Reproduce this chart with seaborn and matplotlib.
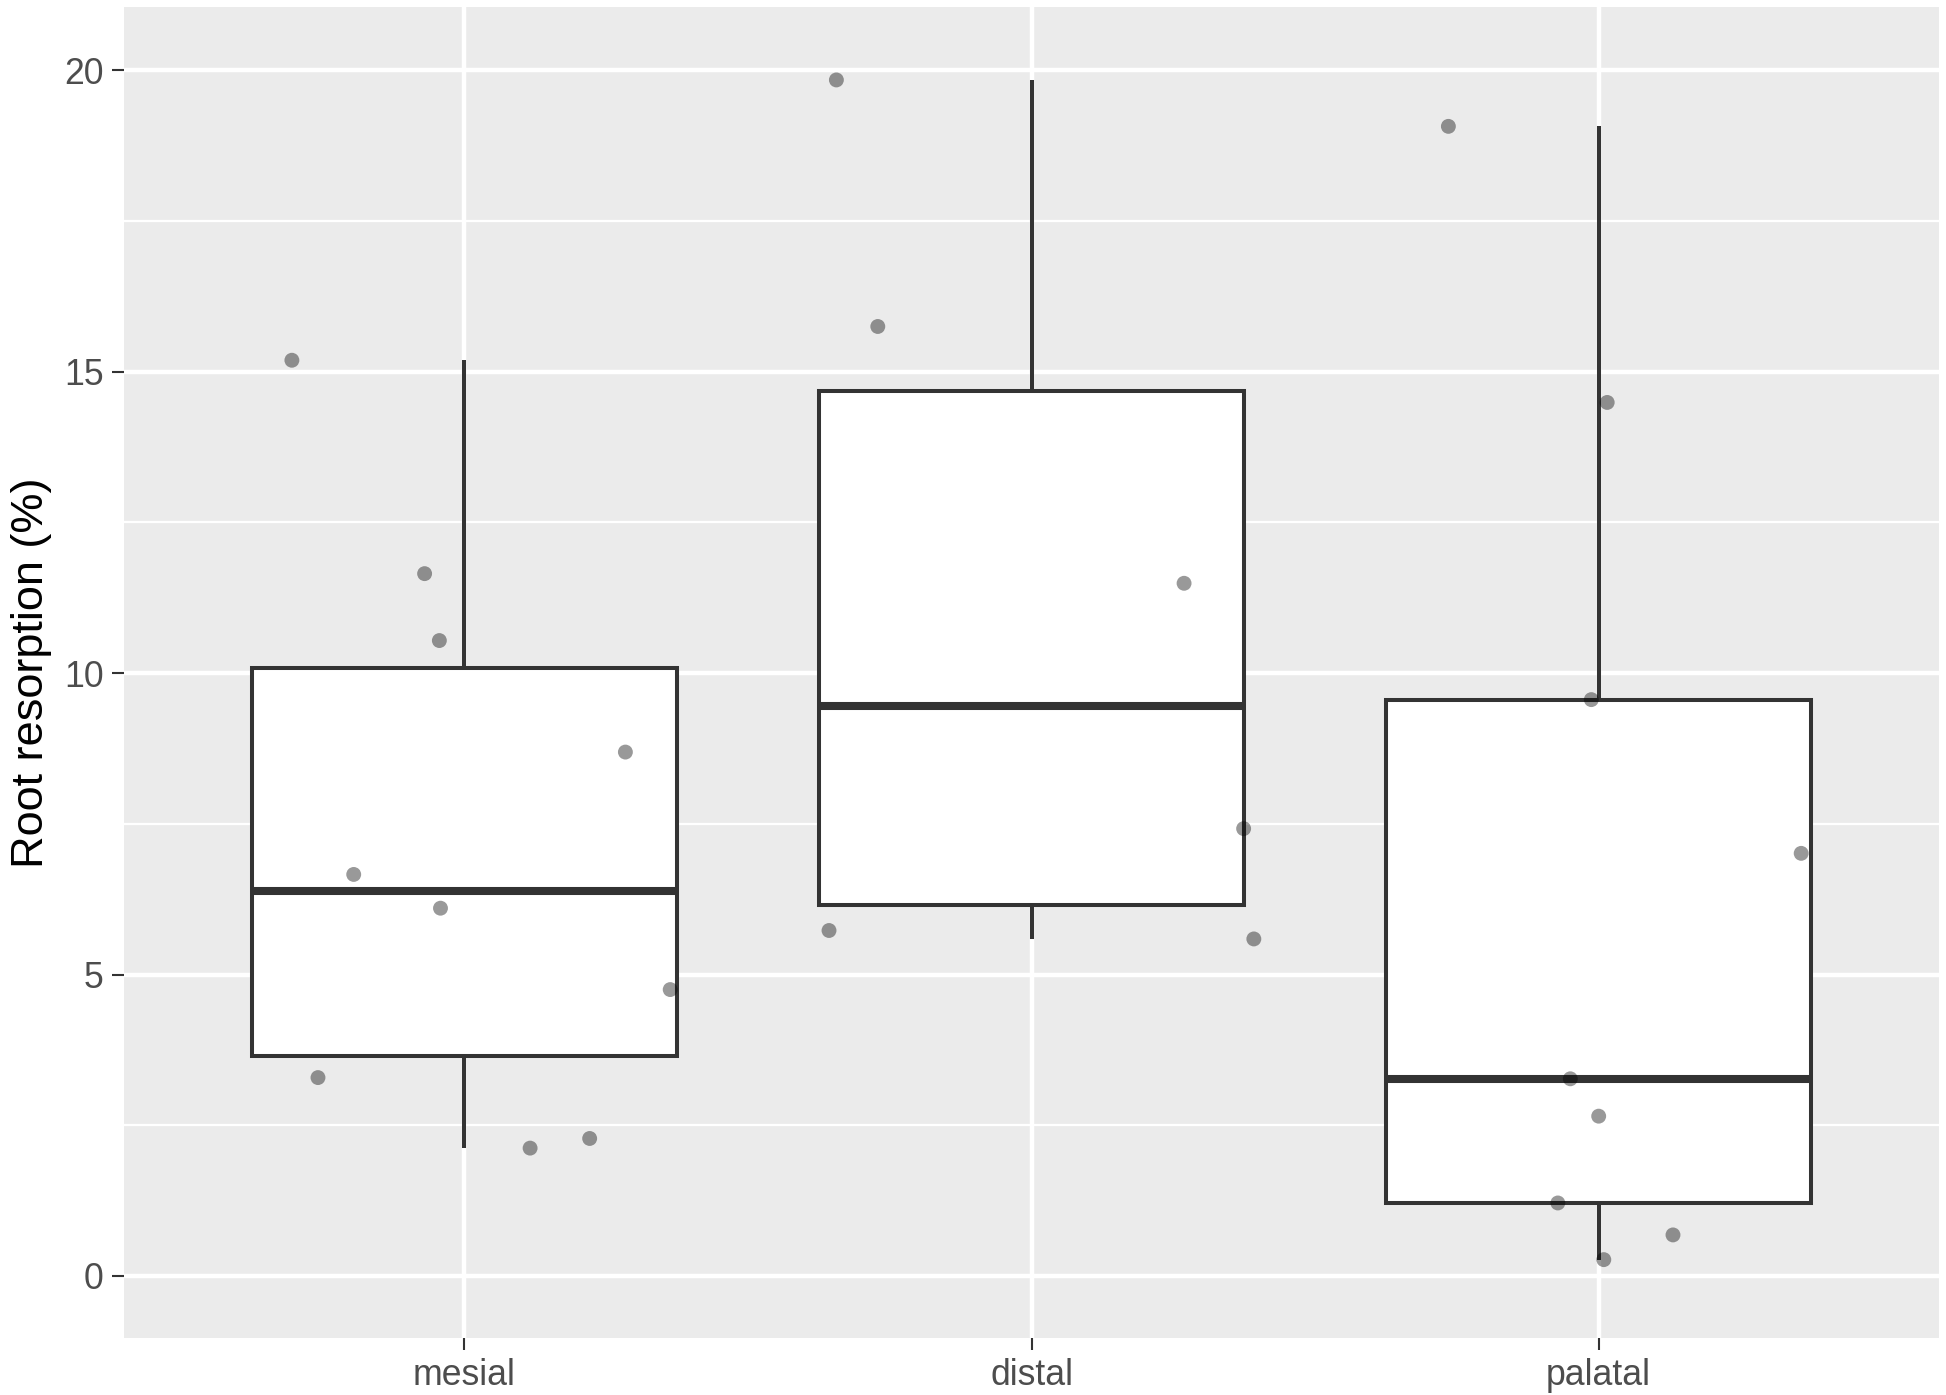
import numpy as np
import pandas as pd
import matplotlib
matplotlib.use("Agg")
import matplotlib.pyplot as plt
import seaborn as sns
from matplotlib.ticker import MultipleLocator

# ---- data ----
categories = ["mesial", "distal", "palatal"]

mesial_values = [15.19, 11.65, 10.54, 8.69, 6.66, 6.10, 4.75, 3.29, 2.12, 2.28]
mesial_jitter = [-0.304, -0.070, -0.044, 0.284, -0.195, -0.042, 0.363, -0.258, 0.116, 0.221]

distal_values = [19.84, 15.75, 11.49, 7.42, 5.73, 5.59]
distal_jitter = [-0.344, -0.271, 0.269, 0.374, -0.357, 0.392]

palatal_values = [19.07, 14.49, 9.56, 7.01, 3.27, 2.65, 1.21, 0.68, 0.27]
palatal_jitter = [-0.265, 0.015, -0.013, 0.357, -0.050, 0.000, -0.072, 0.131, 0.009]

y_ticks = [0, 5, 10, 15, 20]
y_label = "Root resorption (%)"

# ---- build table ----
rows = []
for cat, vals, jit in [("mesial", mesial_values, mesial_jitter),
                       ("distal", distal_values, distal_jitter),
                       ("palatal", palatal_values, palatal_jitter)]:
    for v, j in zip(vals, jit):
        rows.append({"site": cat, "value": v, "jitter": j})
df = pd.DataFrame(rows)
df["site"] = pd.Categorical(df["site"], categories=categories, ordered=True)
df["xpos"] = df["site"].cat.codes + df["jitter"]

# ---- style ----
sns.set_theme(style="darkgrid")
plt.rcParams["font.family"] = ["Liberation Sans", "DejaVu Sans"]

fig = plt.figure(figsize=(19.46, 13.95), dpi=100)
ax = fig.add_axes([124 / 1946, 1 - 1338 / 1395, (1939 - 124) / 1946, (1338 - 7) / 1395])
ax.set_facecolor("#EBEBEB")

line_col = "#333333"
sns.boxplot(data=df, x="site", y="value", order=categories, width=0.75,
            color="white", linecolor=line_col, linewidth=2.9,
            showfliers=False, showcaps=False, saturation=1,
            medianprops={"linewidth": 5.8, "color": line_col},
            ax=ax, zorder=3)

sns.scatterplot(data=df, x="xpos", y="value", color="black", alpha=0.4,
                s=115, edgecolor="none", linewidth=0, ax=ax, zorder=5)

ax.set_xlim(-0.6, 2.6)
ax.set_ylim(-1.03, 21.05)
ax.set_xticks(range(len(categories)))
ax.set_xticklabels(categories)
ax.set_yticks(y_ticks)
ax.set_yticklabels([str(t) for t in y_ticks])
ax.yaxis.set_minor_locator(MultipleLocator(2.5))

ax.grid(False)
ax.set_axisbelow(True)
ax.grid(which="major", axis="both", color="white", linewidth=3.2)
ax.grid(which="minor", axis="y", color="white", linewidth=1.6)
ax.tick_params(axis="x", which="minor", bottom=False)
ax.tick_params(axis="y", which="minor", left=False, length=0)

for s in ax.spines.values():
    s.set_visible(False)

ax.tick_params(axis="both", which="major", length=8.6, width=1.5, color="#333333",
               labelsize=25.7, labelcolor="#4D4D4D", pad=6,
               bottom=True, left=True)

ax.set_xlabel("")
ax.set_ylabel(y_label, fontsize=32.5, color="black", labelpad=9)

fig.savefig("out.png", dpi=100, facecolor="white")
